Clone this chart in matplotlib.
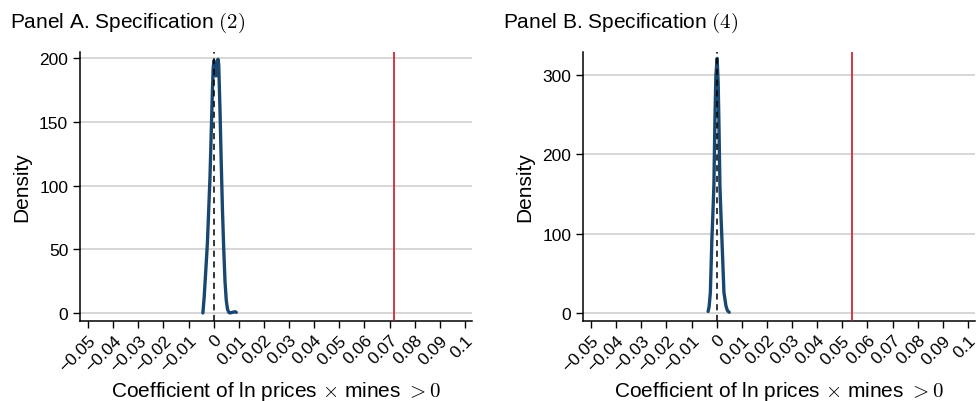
import matplotlib
matplotlib.use("Agg")
import matplotlib.pyplot as plt

# ==============================
# DATA
# ==============================
ticks_x = [-0.05, -0.04, -0.03, -0.02, -0.01, 0, 0.01, 0.02, 0.03, 0.04,
           0.05, 0.06, 0.07, 0.08, 0.09, 0.1]
tick_labels_x = ["\u22120.05", "\u22120.04", "\u22120.03", "\u22120.02", "\u22120.01", "0",
                 "0.01", "0.02", "0.03", "0.04", "0.05", "0.06", "0.07", "0.08", "0.09", "0.1"]

# Panel A: specification (2)
coef_a = [-0.0043, -0.0038, -0.0030, -0.0025, -0.0020, -0.0015, -0.0010, -0.0005,
          -0.0002, 0.0001, 0.0005, 0.0009, 0.0013, 0.0017, 0.0020, 0.0025, 0.0030,
          0.0035, 0.0040, 0.0045, 0.0050, 0.0055, 0.0060, 0.0065, 0.0075, 0.0085, 0.0090]
dens_a = [0, 12, 38, 55, 80, 105, 140, 175,
          192, 198, 190, 186, 192, 199, 195, 160, 118,
          80, 50, 25, 10, 3, 0.5, 0, 0.5, 1, 0.5]
estimate_a = 0.0718
yticks_a = [0, 50, 100, 150, 200]

# Panel B: specification (4)
coef_b = [-0.0034, -0.0030, -0.0025, -0.0019, -0.0015, -0.0011, -0.0007, -0.0003,
          0.0002, 0.0006, 0.0009, 0.0013, 0.0017, 0.0021, 0.0029, 0.0037, 0.0043, 0.0050]
dens_b = [2, 8, 26, 93, 125, 160, 241, 300,
          321, 290, 241, 160, 125, 93, 26, 9, 3, 1]
estimate_b = 0.0538
yticks_b = [0, 100, 200, 300]

# ==============================
# STYLE
# ==============================
plt.rcParams["font.family"] = ["Liberation Sans", "DejaVu Sans"]
plt.rcParams["mathtext.fontset"] = "cm"

NAVY = "#1a476f"
RED = "#d0152b"
GRID = "#cfcfcf"
LABEL_SIZE = 15


def draw_panel(ax, coef, dens, estimate, yticks, ylim):
    ax.grid(axis="y", color=GRID, lw=1.2)
    ax.set_axisbelow(True)
    ax.plot(coef, dens, color=NAVY, lw=2.4, solid_capstyle="round", zorder=3)
    ax.axvline(0, color="black", ls=(0, (4, 3)), lw=1.1, zorder=4)
    ax.axvline(estimate, color=RED, lw=1.2, zorder=4)

    ax.set_xlim(-0.0532, 0.1028)
    ax.set_ylim(*ylim)
    ax.set_xticks(ticks_x)
    ax.set_xticklabels(tick_labels_x, rotation=45, ha="right", va="top",
                       rotation_mode="anchor")
    ax.set_yticks(yticks)
    ax.tick_params(labelsize=12.5, length=5, width=1, color="black")
    ax.tick_params(axis="x", pad=3)

    for side in ("top", "right"):
        ax.spines[side].set_visible(False)
    for side in ("left", "bottom"):
        ax.spines[side].set_linewidth(1.1)

    ax.set_ylabel("Density", fontsize=LABEL_SIZE, labelpad=6)
    ax.set_xlabel(r"Coefficient of ln prices $\times$ mines $>0$",
                  fontsize=LABEL_SIZE, labelpad=4)


fig = plt.figure(figsize=(9.77, 4.02), dpi=100)
ax_a = fig.add_axes([0.0819, 0.199, 0.4012, 0.669])
ax_b = fig.add_axes([0.5967, 0.199, 0.4012, 0.669])

draw_panel(ax_a, coef_a, dens_a, estimate_a, yticks_a, (-6.3, 204.7))
draw_panel(ax_b, coef_b, dens_b, estimate_b, yticks_b, (-10, 329))

fig.text(10 / 977, 0.930, r"Panel A. Specification $(2)$", fontsize=LABEL_SIZE,
         va="baseline", ha="left")
fig.text(503 / 977, 0.930, r"Panel B. Specification $(4)$", fontsize=LABEL_SIZE,
         va="baseline", ha="left")

fig.savefig("out.png", dpi=100)
